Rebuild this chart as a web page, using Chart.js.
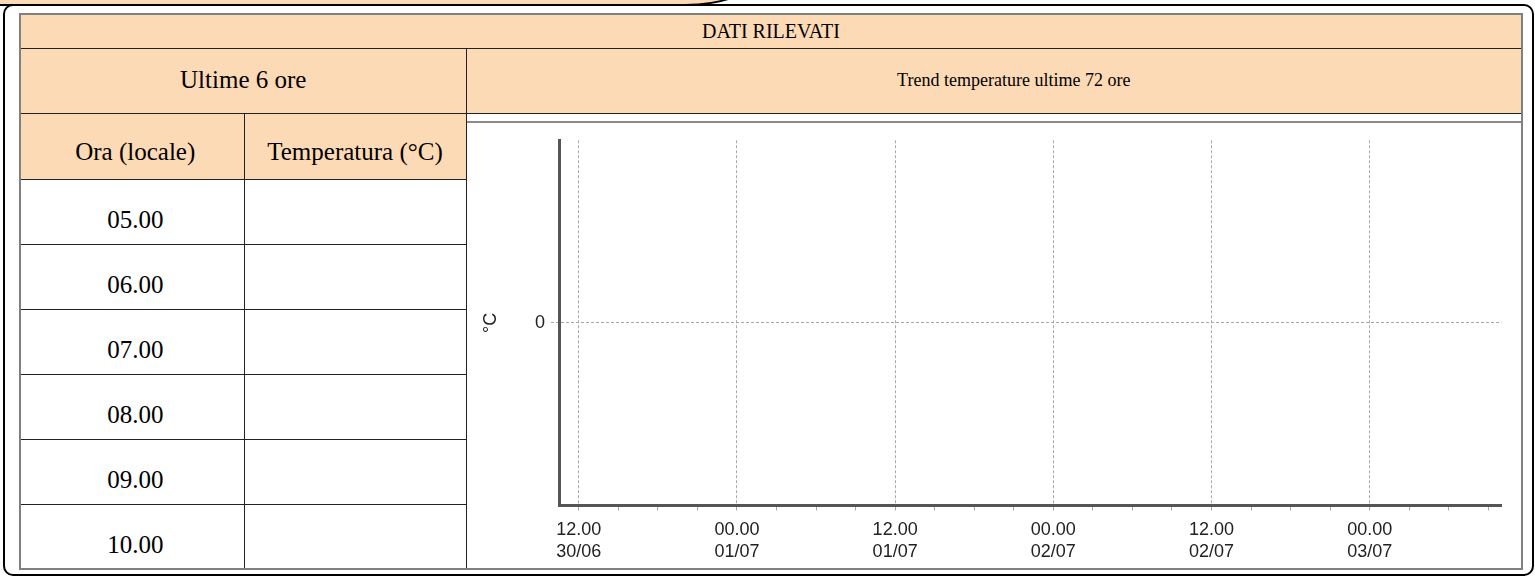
<!DOCTYPE html>
<html>
<head>
<meta charset="utf-8">
<script src="https://cdn.jsdelivr.net/npm/chart.js@4.4.1/dist/chart.umd.min.js"></script>
<style>
  body { margin: 0; background: #fff; width: 1535px; height: 577px; overflow: hidden; position: relative; font-family: "Liberation Serif", serif; }
  .tab { position: absolute; left: -2px; top: -40px; width: 757px; height: 46px; box-sizing: border-box; background: #fddab6; border: 2px solid #000; border-bottom-right-radius: 70px 28px; }
  .box { position: absolute; left: 3px; top: 4px; width: 1531px; height: 572px; box-sizing: border-box; border: 2px solid #000; border-radius: 10px; }
  table { position: absolute; left: 19px; top: 13px; width: 1504px; border-collapse: collapse; table-layout: fixed; border: 2px solid #808080; }
  td { border: 1px solid #222; text-align: center; padding: 0; color: #000; }
  .peach { background: #fddab6; }
  .big { font-size: 25px; }
  .title1 { font-size: 20px; }
  .title2 { font-size: 18px; padding-left: 40px; }
  .ultime { padding-bottom: 1px; }
  .head3 { padding-top: 12px; }
  .low { padding-top: 17px; }
  .first { padding-left: 6px; }
  .chartcell { position: relative; vertical-align: top; }
  .wrap { position: absolute; left: 0; right: 0; top: 7px; bottom: 0; border-top: 2px solid #8a8a8a; }
</style>
</head>
<body>
<div class="tab"></div>
<div class="box"></div>
<table id="tbl">
  <colgroup><col style="width:224px"><col style="width:222px"><col></colgroup>
  <tr style="height:34px"><td class="peach title1" colspan="3">DATI RILEVATI</td></tr>
  <tr style="height:65px">
    <td class="peach big ultime" colspan="2">Ultime 6 ore</td>
    <td class="peach title2">Trend temperature ultime 72 ore</td>
  </tr>
  <tr style="height:66px">
    <td class="peach big head3 first">Ora (locale)</td>
    <td class="peach big head3">Temperatura (°C)</td>
    <td class="chartcell" id="chartcell" rowspan="7"><div class="wrap"><canvas id="trend"></canvas></div></td>
  </tr>
</table>
<script>
// ultime 6 ore (tabella)
const tableHours = ['05.00', '06.00', '07.00', '08.00', '09.00', '10.00'];
const tableTemps = ['', '', '', '', '', ''];

// trend 72 ore: ore contate dalla mezzanotte del 30/06
const trendHours = [];
const trendTemps = [];
const xRange = [10.5, 82];
const tickHours = [12, 15, 18, 21, 24, 27, 30, 33, 36, 39, 42, 45, 48, 51, 54, 57, 60, 63, 66, 69, 72, 75, 78, 81];
const majorHours = [12, 24, 36, 48, 60, 72];
const majorLabels = [['12.00', '30/06'], ['00.00', '01/07'], ['12.00', '01/07'], ['00.00', '02/07'], ['12.00', '02/07'], ['00.00', '03/07']];
const yRange = [-1, 1];
const yTicks = [0];

const tbl = document.getElementById('tbl');
tableHours.forEach((h, i) => {
  const tr = tbl.insertRow();
  tr.style.height = '65px';
  const a = tr.insertCell(); a.className = 'big low first'; a.textContent = h;
  const b = tr.insertCell(); b.className = 'big low'; b.textContent = tableTemps[i];
});

const tickFont = { family: '"Liberation Sans", sans-serif', size: 18, lineHeight: 1.25 };
const gridGray = '#a8a8a8';

new Chart(document.getElementById('trend'), {
  type: 'line',
  data: {
    datasets: [{
      label: '°C',
      data: trendHours.map((h, i) => ({ x: h, y: trendTemps[i] })),
      borderColor: '#c00000',
      borderWidth: 2,
      pointRadius: 0
    }]
  },
  options: {
    responsive: true,
    maintainAspectRatio: false,
    animation: false,
    layout: { padding: { top: 16, right: 20, bottom: 0, left: 0 } },
    plugins: { legend: { display: false }, tooltip: { enabled: false } },
    scales: {
      x: {
        type: 'linear',
        min: xRange[0],
        max: xRange[1],
        afterBuildTicks: axis => { axis.ticks = tickHours.map(v => ({ value: v })); },
        afterFit: axis => { axis.height = 63; },
        grid: {
          color: ctx => (ctx.tick && majorHours.includes(ctx.tick.value)) ? gridGray : 'rgba(0,0,0,0)',
          tickColor: gridGray,
          tickLength: 5
        },
        border: { color: '#555', width: 3, dash: [3, 2] },
        ticks: {
          autoSkip: false,
          maxRotation: 0,
          padding: 8,
          color: '#222',
          font: tickFont,
          callback: v => {
            const i = majorHours.indexOf(v);
            return i < 0 ? '' : majorLabels[i];
          }
        }
      },
      y: {
        min: yRange[0],
        max: yRange[1],
        afterBuildTicks: axis => { axis.ticks = yTicks.map(v => ({ value: v })); },
        afterFit: axis => { axis.width = 92; },
        grid: { color: gridGray, tickColor: gridGray, tickLength: 8, tickBorderDash: [3, 2] },
        border: { color: '#555', width: 3, dash: [3, 2] },
        ticks: { padding: 6, color: '#222', font: tickFont },
        title: {
          display: true,
          text: '°C',
          color: '#222',
          font: { family: '"Liberation Sans", sans-serif', size: 18 },
          padding: { top: 13, bottom: 0 }
        }
      }
    }
  }
});
</script>
</body>
</html>
